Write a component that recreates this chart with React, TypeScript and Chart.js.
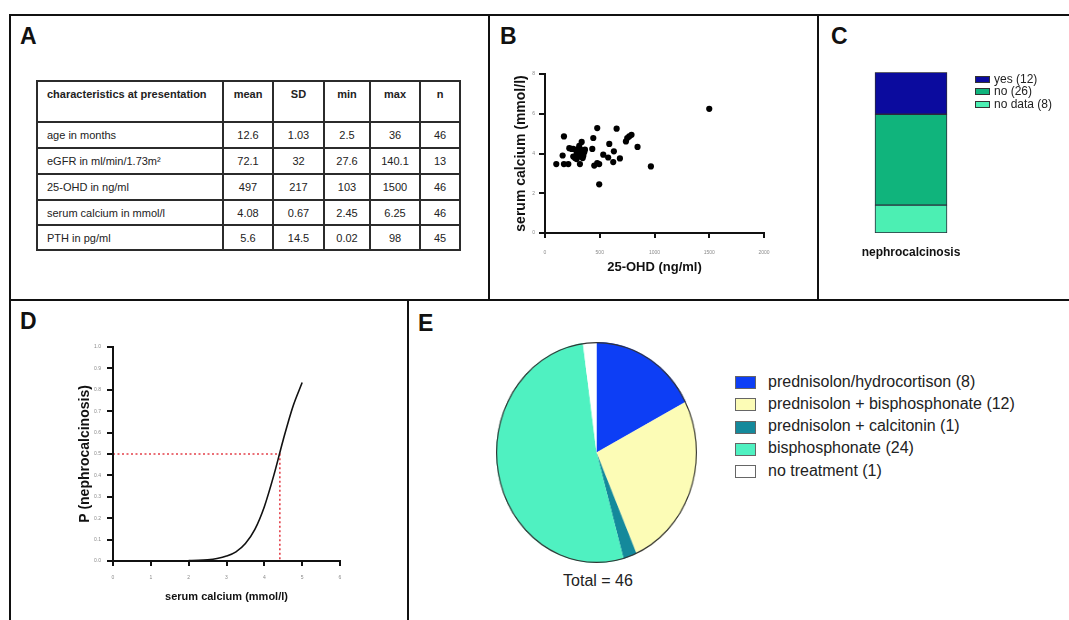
import React, { useEffect, useRef } from "react";
import { Chart, registerables } from "chart.js";

Chart.register(...registerables);

const FONT = "'Liberation Sans', Arial, Helvetica, sans-serif";
Chart.defaults.font.family = FONT;

// ---------- Panel A : table ----------
const tableColumns = ["characteristics at presentation", "mean", "SD", "min", "max", "n"];
const tableRows = ["age in months", "eGFR in ml/min/1.73m²", "25-OHD in ng/ml", "serum calcium in mmol/l", "PTH in pg/ml"];
const tableMean = ["12.6", "72.1", "497", "4.08", "5.6"];
const tableSD = ["1.03", "32", "217", "0.67", "14.5"];
const tableMin = ["2.5", "27.6", "103", "2.45", "0.02"];
const tableMax = ["36", "140.1", "1500", "6.25", "98"];
const tableN = ["46", "13", "46", "46", "45"];

// ---------- Panel B : scatter ----------
const ohdValues = [103, 161, 173, 173, 213, 222, 258, 274, 289, 304, 319, 335, 344, 350, 313, 289, 358, 325, 432, 441, 450, 477, 477, 495, 495, 532, 577, 587, 629, 623, 654, 684, 739, 751, 769, 790, 845, 967, 1500, 258, 295, 335, 365, 243, 344, 313];
const calciumValues = [3.47, 3.9, 4.86, 3.47, 3.47, 4.27, 4.23, 3.77, 4.02, 4.23, 3.47, 4.58, 4.11, 3.89, 3.85, 3.72, 4.06, 4.19, 4.23, 4.78, 3.39, 5.28, 3.52, 3.47, 2.45, 3.94, 3.8, 4.48, 4.11, 3.57, 5.25, 3.75, 4.61, 4.78, 4.86, 4.94, 4.33, 3.35, 6.25, 3.85, 4.06, 3.99, 4.19, 4.23, 3.77, 4.39];
const ohdTicks = [0, 500, 1000, 1500, 2000];
const calciumTicks = [0, 2, 4, 6, 8];

// ---------- Panel C : stacked bar ----------
const nephroCategory = ["nephrocalcinosis"];
const nephroLabels = ["yes (12)", "no (26)", "no data (8)"];
const nephroCounts = [12, 26, 8];
const nephroColors = ["#0b0b9e", "#10b47c", "#4cefb3"];

// ---------- Panel D : probability curve ----------
const curveCalcium = [2.0, 2.25, 2.5, 2.75, 3.0, 3.25, 3.5, 3.75, 4.0, 4.25, 4.5, 4.75, 5.0];
const curveProb = [0.002, 0.003, 0.006, 0.012, 0.023, 0.043, 0.082, 0.148, 0.254, 0.4, 0.567, 0.719, 0.834];
const cutoffCalcium = [0, 4.41, 4.41];
const cutoffProb = [0.5, 0.5, 0];
const dXTicks = [0, 1, 2, 3, 4, 5, 6];
const dYTicks = [0, 0.1, 0.2, 0.3, 0.4, 0.5, 0.6, 0.7, 0.8, 0.9, 1.0];

// ---------- Panel E : pie ----------
const treatLabels = ["prednisolon/hydrocortison (8)", "prednisolon + bisphosphonate (12)", "prednisolon + calcitonin (1)", "bisphosphonate (24)", "no treatment (1)"];
const treatCounts = [8, 12, 1, 24, 1];
const treatColors = ["#0d3ef5", "#fcfcb6", "#14899b", "#4ff1c1", "#ffffff"];

// ---------- layout of the two axis charts (canvas box + plot area inside it) ----------
type Geom = { left: number; top: number; w: number; h: number; l: number; t: number; r: number; b: number };
const geomB: Geom = { left: 495, top: 55, w: 300, h: 225, l: 50, t: 19, r: 269, b: 178 };
const geomD: Geom = { left: 30, top: 330, w: 340, h: 285, l: 83, t: 17, r: 310, b: 231 };

function ChartCanvas(props: { left: number; top: number; width: number; height: number; config: () => any; transform?: string }) {
  const ref = useRef<HTMLCanvasElement | null>(null);
  useEffect(() => {
    if (!ref.current) return;
    const chart = new Chart(ref.current, props.config());
    return () => chart.destroy();
  }, []);
  const style: any = { position: "absolute", left: props.left, top: props.top, width: props.width, height: props.height };
  if (props.transform) {
    style.transform = props.transform;
    style.transformOrigin = "center center";
  }
  return <canvas ref={ref} width={props.width} height={props.height} style={style} />;
}

// GraphPad-style axis frame with outward ticks, placed through the chart's own scales
const axesPlugin = {
  id: "prismAxes",
  afterDraw(chart: any) {
    const ctx = chart.ctx;
    const xs = chart.scales.x;
    const ys = chart.scales.y;
    const L = Math.round(xs.getPixelForValue(xs.min));
    const R = Math.round(xs.getPixelForValue(xs.max));
    const B = Math.round(ys.getPixelForValue(ys.min));
    const T = Math.round(ys.getPixelForValue(ys.max));
    ctx.save();
    ctx.fillStyle = "#111111";
    ctx.fillRect(L - 1, T, 2, B - T + 1);
    ctx.fillRect(L - 1, B - 1, R - L + 1, 2);
    for (let i = 0; i < xs.ticks.length; i++) {
      const px = Math.round(xs.getPixelForValue(xs.ticks[i].value));
      ctx.fillRect(px - 1, B, 2, 5);
    }
    for (let i = 0; i < ys.ticks.length; i++) {
      const py = Math.round(ys.getPixelForValue(ys.ticks[i].value));
      ctx.fillRect(L - 6, py - 1, 5, 2);
    }
    ctx.restore();
  },
};

// same frame as page elements, aligned to the same plot area
function AxisFrame(props: { g: Geom; xt: number[]; yt: number[] }) {
  const { g, xt, yt } = props;
  const L = g.left + g.l;
  const R = g.left + g.r;
  const T = g.top + g.t;
  const B = g.top + g.b;
  const x0 = xt[0];
  const x1 = xt[xt.length - 1];
  const y0 = yt[0];
  const y1 = yt[yt.length - 1];
  const px = (v: number) => Math.round(L + ((v - x0) / (x1 - x0)) * (R - L));
  const py = (v: number) => Math.round(B - ((v - y0) / (y1 - y0)) * (B - T));
  const k = (x: number, y: number, w: number, h: number, key: string) => (
    <div key={key} style={{ position: "absolute", left: x, top: y, width: w, height: h, background: "#111111", zIndex: 5 }} />
  );
  return (
    <>
      {k(L - 1, T, 2, B - T + 1, "ya")}
      {k(L - 1, B - 1, R - L + 1, 2, "xa")}
      {xt.map((v, i) => k(px(v) - 1, B, 2, 5, "xt" + i))}
      {yt.map((v, i) => k(L - 6, py(v) - 1, 5, 2, "yt" + i))}
    </>
  );
}

function axis(ticksArr: number[], pad: number, fmt: (v: number) => string, size: number, title: any) {
  return {
    type: "linear",
    min: ticksArr[0],
    max: ticksArr[ticksArr.length - 1],
    afterBuildTicks: (s: any) => {
      s.ticks = ticksArr.map((v) => ({ value: v }));
    },
    afterFit: (s: any) => {
      if (s.isHorizontal()) s.height = size;
      else s.width = size;
    },
    ticks: { font: { size: 5 }, color: "#8a8a8a", padding: pad, autoSkip: false, maxRotation: 0, minRotation: 0, callback: (v: any) => fmt(Number(v)) },
    grid: { display: false, drawTicks: true, tickLength: 5 },
    border: { display: true, color: "#111111", width: 2 },
    title,
  };
}

const scatterConfig = () => ({
  type: "scatter",
  data: {
    datasets: [
      {
        data: ohdValues.map((x, i) => ({ x, y: calciumValues[i] })),
        pointRadius: 3.1,
        pointBackgroundColor: "#000",
        pointBorderColor: "#000",
        pointBorderWidth: 0,
      },
    ],
  },
  options: {
    animation: false,
    responsive: false,
    maintainAspectRatio: false,
    layout: { padding: { left: 0, right: geomB.w - geomB.r, top: geomB.t, bottom: 0 } },
    plugins: { legend: { display: false }, tooltip: { enabled: false } },
    scales: {
      x: axis(ohdTicks, 12, (v) => String(v), geomB.h - geomB.b, {
        display: true,
        text: "25-OHD (ng/ml)",
        color: "#111",
        font: { size: 13, weight: "bold" },
        padding: { top: 0, bottom: 5.2 },
      }),
      y: axis(calciumTicks, 5, (v) => String(v), geomB.l, {
        display: true,
        text: "serum calcium (mmol/l)",
        color: "#111",
        font: { size: 14, weight: "bold" },
        padding: { top: 17.6, bottom: 0 },
      }),
    },
  },
  plugins: [axesPlugin],
});

const curveConfig = () => ({
  type: "scatter",
  data: {
    datasets: [
      {
        data: curveCalcium.map((x, i) => ({ x, y: curveProb[i] })),
        showLine: true,
        borderColor: "#111",
        borderWidth: 1.6,
        pointRadius: 0,
        cubicInterpolationMode: "monotone",
        fill: false,
      },
      {
        data: cutoffCalcium.map((x, i) => ({ x, y: cutoffProb[i] })),
        showLine: true,
        borderColor: "#e3404a",
        borderWidth: 1.6,
        borderDash: [2, 2.5],
        pointRadius: 0,
        fill: false,
      },
    ],
  },
  options: {
    animation: false,
    responsive: false,
    maintainAspectRatio: false,
    layout: { padding: { left: 0, right: geomD.w - geomD.r, top: geomD.t, bottom: 0 } },
    plugins: { legend: { display: false }, tooltip: { enabled: false } },
    scales: {
      x: axis(dXTicks, 9, (v) => String(v), geomD.h - geomD.b, {
        display: true,
        text: "serum calcium (mmol/l)",
        color: "#111",
        font: { size: 11, weight: "bold" },
        padding: { top: 0, bottom: 11.9 },
      }),
      y: axis(dYTicks, 7, (v) => v.toFixed(1), geomD.l, {
        display: true,
        text: "P (nephrocalcinosis)",
        color: "#111",
        font: { size: 14, weight: "bold" },
        padding: { top: 46.6, bottom: 0 },
      }),
    },
  },
  plugins: [axesPlugin],
});

const barConfig = () => ({
  type: "bar",
  data: {
    labels: nephroCategory,
    datasets: nephroLabels
      .map((label, i) => ({
        label,
        data: [nephroCounts[i]],
        backgroundColor: nephroColors[i],
        borderColor: "#2a2a3a",
        borderWidth: 1,
        borderSkipped: false,
        barThickness: 72,
      }))
      .reverse(),
  },
  options: {
    animation: false,
    responsive: false,
    maintainAspectRatio: false,
    layout: { padding: { left: 0, right: 0, top: 2.3, bottom: 0 } },
    plugins: { legend: { display: false }, tooltip: { enabled: false } },
    scales: {
      x: {
        stacked: true,
        grid: { display: false, drawTicks: false },
        border: { display: false },
        ticks: { font: { size: 12, weight: "bold" }, color: "#111", padding: 12 },
        afterFit: (s: any) => {
          s.height = 32;
        },
      },
      y: { stacked: true, display: false, min: 0, max: 46 },
    },
  },
});

const outlinePlugin = {
  id: "outline",
  afterDatasetsDraw(chart: any) {
    const arc = chart.getDatasetMeta(0).data[0];
    if (!arc) return;
    const ctx = chart.ctx;
    ctx.save();
    ctx.beginPath();
    ctx.arc(arc.x, arc.y, arc.outerRadius - 0.6, 0, Math.PI * 2);
    ctx.strokeStyle = "#333";
    ctx.lineWidth = 1.2;
    ctx.stroke();
    ctx.restore();
  },
};

const pieConfig = () => ({
  type: "pie",
  data: {
    labels: treatLabels,
    datasets: [{ data: treatCounts, backgroundColor: treatColors, borderWidth: 0 }],
  },
  options: {
    animation: false,
    responsive: false,
    maintainAspectRatio: false,
    layout: { padding: 0 },
    plugins: { legend: { display: false }, tooltip: { enabled: false } },
  },
  plugins: [outlinePlugin],
});

const abs = (left: number, top: number, extra: any = {}) => ({ position: "absolute" as const, left, top, ...extra });

function Line(props: { x: number; y: number; w: number; h: number }) {
  return <div style={abs(props.x, props.y, { width: props.w, height: props.h, background: "#111" })} />;
}

function PanelLabel(props: { text: string; x: number; capTop: number }) {
  return (
    <div style={abs(props.x, props.capTop - 3, { fontSize: 23, lineHeight: "23px", fontWeight: "bold", color: "#111", fontFamily: FONT })}>
      {props.text}
    </div>
  );
}

function DataTable() {
  const colWidths = [186, 50, 51, 46, 50, 40];
  const rowHeights = [26, 26, 26, 25, 25];
  const values = [tableMean, tableSD, tableMin, tableMax, tableN];
  const cell = { border: "2px solid #2b2b2b", fontSize: 11, color: "#222", padding: 0 };
  return (
    <table
      style={abs(36, 80, {
        borderCollapse: "collapse",
        tableLayout: "fixed",
        width: 423,
        fontFamily: FONT,
      })}
    >
      <colgroup>
        {colWidths.map((w, i) => (
          <col key={i} style={{ width: w }} />
        ))}
      </colgroup>
      <tbody>
        <tr style={{ height: 41 }}>
          {tableColumns.map((c, i) => (
            <td
              key={i}
              style={{
                ...cell,
                fontWeight: "bold",
                verticalAlign: "top",
                paddingTop: 6,
                paddingLeft: i === 0 ? 9 : 0,
                textAlign: i === 0 ? "left" : "center",
              }}
            >
              {c}
            </td>
          ))}
        </tr>
        {tableRows.map((r, ri) => (
          <tr key={ri} style={{ height: rowHeights[ri] }}>
            <td style={{ ...cell, paddingLeft: 9, textAlign: "left", verticalAlign: "middle" }}>{r}</td>
            {values.map((col, ci) => (
              <td key={ci} style={{ ...cell, textAlign: "center", verticalAlign: "middle" }}>
                {col[ri]}
              </td>
            ))}
          </tr>
        ))}
      </tbody>
    </table>
  );
}

export default function App() {
  const cRows = [79.3, 91.7, 104];
  const eRows = [382.5, 404.7, 427, 449.2, 471.5];
  return (
    <div style={abs(0, 0, { width: 1069, height: 620, overflow: "hidden", background: "#fff", fontFamily: FONT })}>
      {/* panel frames */}
      <Line x={8.5} y={14} w={1061} h={2.2} />
      <Line x={8.5} y={14} w={2.2} h={606} />
      <Line x={487.5} y={14} w={2.2} h={287} />
      <Line x={817} y={14} w={2.2} h={287} />
      <Line x={8.5} y={299.3} w={1061} h={2.2} />
      <Line x={406.5} y={300} w={2.2} h={320} />

      <PanelLabel text="A" x={20} capTop={28} />
      <PanelLabel text="B" x={500} capTop={28} />
      <PanelLabel text="C" x={831} capTop={28} />
      <PanelLabel text="D" x={20} capTop={313} />
      <PanelLabel text="E" x={418} capTop={315} />

      <DataTable />

      <ChartCanvas left={geomB.left} top={geomB.top} width={geomB.w} height={geomB.h} config={scatterConfig} />
      <AxisFrame g={geomB} xt={ohdTicks} yt={calciumTicks} />

      <ChartCanvas left={841} top={70} width={140} height={195} config={barConfig} />
      {nephroLabels.map((l, i) => (
        <React.Fragment key={i}>
          <div style={abs(975, cRows[i] - 3.5, { width: 13, height: 5, background: nephroColors[i], border: "1px solid #333" })} />
          <div style={abs(994, cRows[i] - 6.5, { fontSize: 12, lineHeight: "12px", color: "#222", whiteSpace: "nowrap" })}>{l}</div>
        </React.Fragment>
      ))}

      <ChartCanvas left={geomD.left} top={geomD.top} width={geomD.w} height={geomD.h} config={curveConfig} />
      <AxisFrame g={geomD} xt={dXTicks} yt={dYTicks} />

      <ChartCanvas left={486} top={342} width={221} height={221} config={pieConfig} transform="scaleX(0.9095)" />
      {treatLabels.map((l, i) => (
        <React.Fragment key={i}>
          <div style={abs(734.5, eRows[i] - 6.5, { width: 19, height: 11, background: treatColors[i], border: "1px solid #666" })} />
          <div style={abs(768, eRows[i] - 9, { fontSize: 16, lineHeight: "16px", color: "#222", whiteSpace: "nowrap" })}>{l}</div>
        </React.Fragment>
      ))}
      <div style={abs(548, 573, { width: 100, textAlign: "center", fontSize: 16, lineHeight: "16px", color: "#222" })}>Total = 46</div>
    </div>
  );
}
